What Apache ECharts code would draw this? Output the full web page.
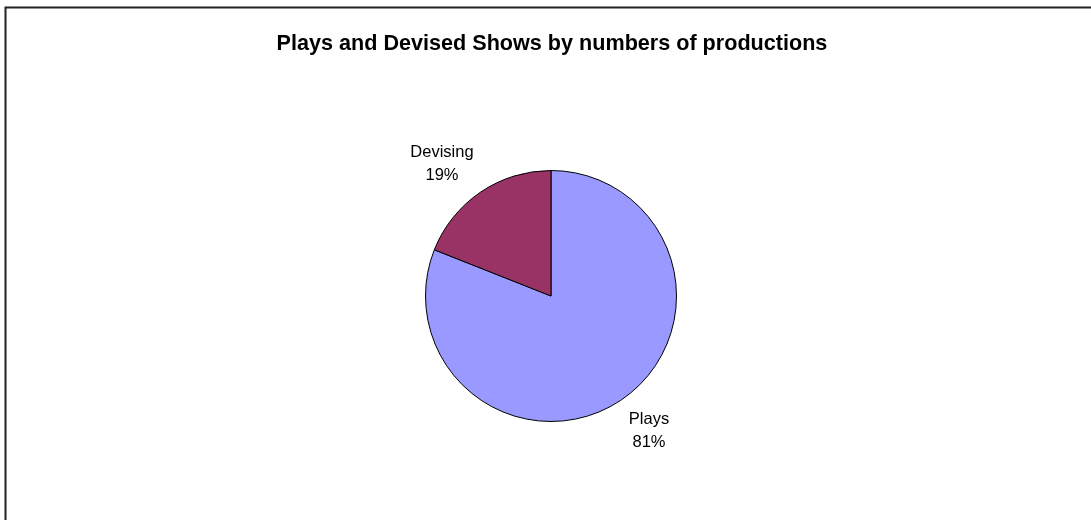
<!DOCTYPE html>
<html>
<head>
<meta charset="utf-8">
<script src="https://cdn.jsdelivr.net/npm/echarts@6/dist/echarts.min.js"></script>
<style>
  html, body { margin: 0; padding: 0; background: #fff; }
  #chart { width: 1091px; height: 520px; }
</style>
</head>
<body>
<div id="chart"></div>
<script>
// slice names and their share of productions (%)
var sliceNames = ['Plays', 'Devising']
var sliceValues = [81, 19]
var sliceColors = ['#9999FF', '#993366']
// small nudges so the labels sit where Excel put them
var labelNudge = [[0, -2], [-11, 5]]

var chart = echarts.init(document.getElementById('chart'))

var pieData = sliceNames.map(function (n, i) {
  return { name: n, value: sliceValues[i], itemStyle: { color: sliceColors[i] } }
})

var option = {
  animation: false,
  backgroundColor: '#fff',
  title: {
    text: 'Plays and Devised Shows by numbers of productions',
    left: 547,
    textAlign: 'center',
    top: 28,
    textStyle: {
      fontFamily: 'Arial, "Liberation Sans", sans-serif',
      fontSize: 21.6,
      fontWeight: 'bold',
      color: '#000'
    }
  },
  // outer frame, cut off at the right and bottom like the original
  graphic: [{
    type: 'rect',
    shape: { x: 5.5, y: 7.5, width: 1200, height: 600 },
    style: { fill: null, stroke: '#222', lineWidth: 2 },
    silent: true
  }],
  series: [{
    type: 'pie',
    center: [551, 296],
    radius: 125.5,
    startAngle: 90,
    clockwise: true,
    data: pieData,
    itemStyle: { borderColor: '#000', borderWidth: 1 },
    label: {
      show: true,
      position: 'outside',
      formatter: function (p) { return p.name + '\n' + Math.round(p.percent) + '%' },
      fontFamily: 'Arial, "Liberation Sans", sans-serif',
      fontSize: 16.5,
      lineHeight: 22.5,
      color: '#000'
    },
    labelLine: { show: false, length: 40, length2: 0 },
    labelLayout: function (params) {
      var n = labelNudge[params.dataIndex]
      return { align: 'center', verticalAlign: 'middle', dx: n[0], dy: n[1] }
    },
    emphasis: { disabled: true }
  }]
}

chart.setOption(option)
</script>
</body>
</html>
